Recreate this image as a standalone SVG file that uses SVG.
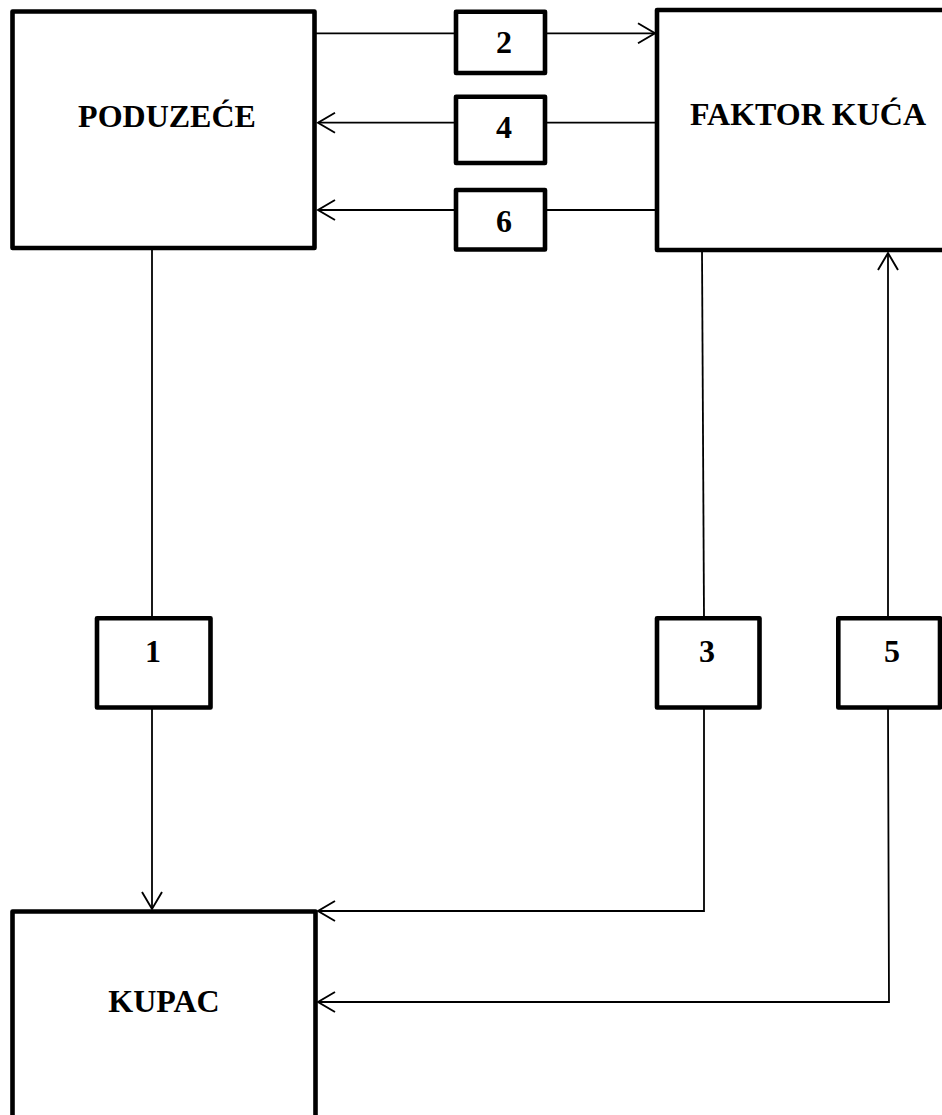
<svg xmlns="http://www.w3.org/2000/svg" width="942" height="1115" viewBox="0 0 942 1115">
<style>
.box{fill:#fff;stroke:#000;stroke-width:4.6;stroke-linejoin:round}
.ln{fill:none;stroke:#000;stroke-width:1.8}
.lbl{font-family:"Liberation Serif","Times New Roman",serif;font-weight:bold;font-size:32px;fill:#000;text-anchor:middle}
</style>
<defs>
<marker id="ah" viewBox="-20 -12 22 24" refX="0" refY="0" markerWidth="22" markerHeight="24" markerUnits="userSpaceOnUse" orient="auto">
<path d="M-17,-10 L0,0 L-17,10" fill="none" stroke="#000" stroke-width="1.9"/>
</marker>
</defs>
<rect width="942" height="1115" fill="#fff"/>
<g id="connectors">
<line class="ln" x1="314" y1="33.3" x2="456" y2="33.3"/>
<line class="ln" x1="545" y1="33.3" x2="655" y2="33.3" marker-end="url(#ah)"/>
<line class="ln" x1="657" y1="122.7" x2="545" y2="122.7"/>
<line class="ln" x1="456" y1="122.7" x2="318" y2="122.7" marker-end="url(#ah)"/>
<line class="ln" x1="657" y1="210" x2="545" y2="210"/>
<line class="ln" x1="456" y1="210" x2="318" y2="210" marker-end="url(#ah)"/>
<line class="ln" x1="152" y1="250" x2="152" y2="618"/>
<line class="ln" x1="152" y1="707.5" x2="152" y2="909" marker-end="url(#ah)"/>
<line class="ln" x1="702" y1="250" x2="704" y2="618"/>
<polyline class="ln" points="704,707.5 704,911 318,911" marker-end="url(#ah)"/>
<line class="ln" x1="888" y1="618" x2="888" y2="253" marker-end="url(#ah)"/>
<polyline class="ln" points="888,707.5 889,1002 318,1002" marker-end="url(#ah)"/>
</g>
<g id="poduzece">
<rect class="box" x="12.5" y="11.5" width="302" height="236.5"/>
<text class="lbl" x="167" y="127">PODUZEĆE</text>
</g>
<g id="faktor">
<rect class="box" x="657" y="10" width="290" height="240"/>
<text class="lbl" x="808" y="125">FAKTOR KUĆA</text>
</g>
<g id="kupac">
<rect class="box" x="12.5" y="911.5" width="303" height="220"/>
<text class="lbl" x="164" y="1012">KUPAC</text>
</g>
<g id="n2">
<rect class="box" x="456" y="11.7" width="89" height="61.3"/>
<text class="lbl" x="504" y="53">2</text>
</g>
<g id="n4">
<rect class="box" x="456" y="96.7" width="89" height="66.3"/>
<text class="lbl" x="504" y="138">4</text>
</g>
<g id="n6">
<rect class="box" x="456" y="190" width="89" height="59.5"/>
<text class="lbl" x="504" y="232">6</text>
</g>
<g id="n1">
<rect class="box" x="97" y="618.3" width="113.5" height="89.2"/>
<text class="lbl" x="153" y="662">1</text>
</g>
<g id="n3">
<rect class="box" x="657" y="618.3" width="102.5" height="89.2"/>
<text class="lbl" x="707" y="662">3</text>
</g>
<g id="n5">
<rect class="box" x="838.3" y="618.3" width="101.7" height="89.2"/>
<text class="lbl" x="892" y="662">5</text>
</g>
</svg>
